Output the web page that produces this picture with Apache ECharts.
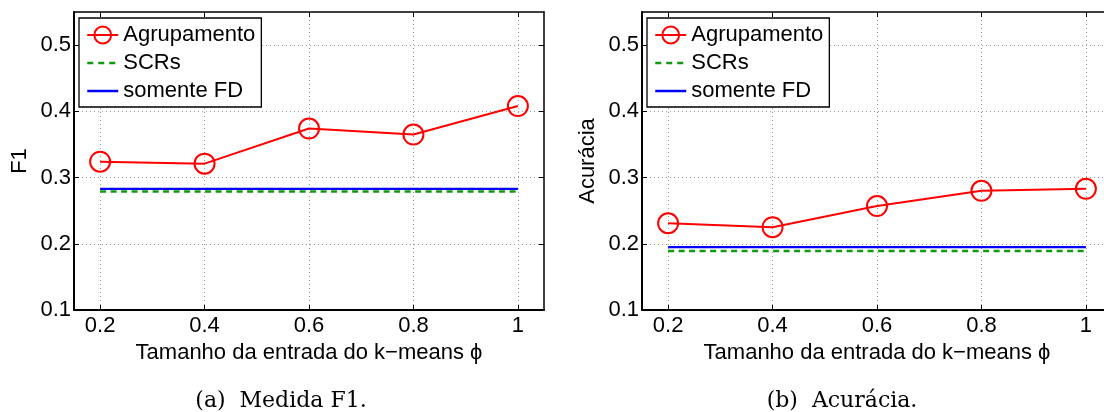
<!DOCTYPE html>
<html>
<head>
<meta charset="utf-8">
<script src="https://cdn.jsdelivr.net/npm/echarts@6/dist/echarts.min.js"></script>
<style>
  html, body { margin: 0; padding: 0; background: #ffffff; }
  #chart { width: 1104px; height: 412px; }
</style>
</head>
<body>
<div id="chart"></div>
<script>
// k-means input size (phi) on the x axis
const phiValues = [0.2, 0.4, 0.6, 0.8, 1];
const xTicks = [0.2, 0.4, 0.6, 0.8, 1];
const yTicks = [0.1, 0.2, 0.3, 0.4, 0.5];

const seriesNames = ['Agrupamento', 'SCRs', 'somente FD'];

// (a) F1 measure
const f1Agrupamento = [0.324, 0.321, 0.374, 0.365, 0.408];
const f1Scrs        = [0.279, 0.279, 0.279, 0.279, 0.279];
const f1SomenteFd   = [0.283, 0.283, 0.283, 0.283, 0.283];

// (b) Accuracy
const accAgrupamento = [0.231, 0.225, 0.257, 0.280, 0.283];
const accScrs        = [0.189, 0.189, 0.189, 0.189, 0.189];
const accSomenteFd   = [0.195, 0.195, 0.195, 0.195, 0.195];

const yTitles = ['F1', 'Acurácia'];
const xTitle = 'Tamanho da entrada do k\u2212means \u03d5';
const captions = ['(a)  Medida F1.', '(b)  Acurácia.'];

const SANS = '"Liberation Sans", Arial, Helvetica, sans-serif';
const SERIF = '"DejaVu Serif", serif';
const RED = '#ff0000';
const GREEN = '#0f9a0f';
const BLUE = '#0000ff';
const NONE = 'rgba(0,0,0,0)';
const GRID_LINE = { color: '#9a9a9a', width: 1, type: [1, 3] };

const panels = [
  { left: 74, agr: f1Agrupamento, scr: f1Scrs, fd: f1SomenteFd, captionX: 281 },
  { left: 642, agr: accAgrupamento, scr: accScrs, fd: accSomenteFd, captionX: 842 }
];

const grids = [], xAxes = [], yAxes = [], series = [], legends = [], graphics = [];

panels.forEach((p, i) => {
  // the second panel runs past the right edge of the canvas
  grids.push({
    left: p.left, top: 12, width: 470, height: 298,
    containLabel: false, outerBoundsMode: 'none', show: false
  });

  const xBase = { type: 'value', gridIndex: i, min: 0.15, max: 1.05, splitNumber: 5 };
  const yBase = { type: 'value', gridIndex: i, min: 0.1, max: 0.55, interval: 0.1 };

  // bottom x axis with labels and dotted grid
  xAxes.push(Object.assign({}, xBase, {
    position: 'bottom',
    axisLine: { show: true, onZero: false, lineStyle: { color: '#000', width: 2 } },
    axisTick: { show: true, inside: true, length: 5, customValues: xTicks, lineStyle: { color: '#000', width: 1 } },
    axisLabel: {
      customValues: xTicks, margin: 5, color: '#000', fontSize: 22, fontFamily: SANS,
      formatter: v => String(+v.toFixed(1))
    },
    splitLine: { show: true, lineStyle: GRID_LINE },
    name: xTitle, nameLocation: 'middle', nameGap: 29,
    nameTextStyle: { color: '#000', fontSize: 22, fontFamily: SANS }
  }));
  // top frame edge
  xAxes.push(Object.assign({}, xBase, {
    position: 'top',
    axisLine: { show: true, onZero: false, lineStyle: { color: '#000', width: 1.5 } },
    axisTick: { show: true, inside: true, length: 5, customValues: xTicks, lineStyle: { color: '#000', width: 1 } },
    axisLabel: { show: false },
    splitLine: { show: false }
  }));

  // left y axis with labels and dotted grid
  yAxes.push(Object.assign({}, yBase, {
    position: 'left',
    axisLine: { show: true, onZero: false, lineStyle: { color: '#000', width: 2 } },
    axisTick: { show: true, inside: true, length: 5, customValues: yTicks, lineStyle: { color: '#000', width: 1 } },
    axisLabel: {
      customValues: yTicks, margin: 3, color: '#000', fontSize: 22, fontFamily: SANS,
      formatter: v => v.toFixed(1)
    },
    splitLine: { show: true, lineStyle: GRID_LINE },
    name: yTitles[i], nameLocation: 'middle', nameGap: 43,
    nameTextStyle: { color: '#000', fontSize: 22, fontFamily: SANS }
  }));
  // right frame edge
  yAxes.push(Object.assign({}, yBase, {
    position: 'right',
    axisLine: { show: true, onZero: false, lineStyle: { color: '#000', width: 1.5 } },
    axisTick: { show: true, inside: true, length: 5, customValues: yTicks, lineStyle: { color: '#000', width: 1 } },
    axisLabel: { show: false },
    splitLine: { show: false }
  }));

  const xi = i * 2, yi = i * 2;
  const pairs = arr => phiValues.map((x, k) => [x, arr[k]]);

  series.push({
    name: seriesNames[2], type: 'line', xAxisIndex: xi, yAxisIndex: yi,
    data: pairs(p.fd), symbol: 'none', silent: true, z: 3,
    lineStyle: { color: BLUE, width: 2.2 }, itemStyle: { color: BLUE }
  });
  series.push({
    name: seriesNames[1], type: 'line', xAxisIndex: xi, yAxisIndex: yi,
    data: pairs(p.scr), symbol: 'none', silent: true, z: 3,
    lineStyle: { color: GREEN, width: 2.5, type: [6, 4.5] }, itemStyle: { color: GREEN }
  });
  series.push({
    name: seriesNames[0], type: 'line', xAxisIndex: xi, yAxisIndex: yi,
    data: pairs(p.agr), symbol: 'circle', symbolSize: 20, showSymbol: true, silent: true, z: 5,
    lineStyle: { color: RED, width: 2 },
    itemStyle: { color: NONE, borderColor: RED, borderWidth: 2 }
  });

  legends.push({
    orient: 'vertical', left: p.left + 5, top: 18,
    backgroundColor: '#fff', borderColor: '#000', borderWidth: 1.3, borderRadius: 0,
    padding: [6, 6, 5, 7], itemWidth: 31, itemHeight: 21, itemGap: 6,
    selectedMode: false,
    textStyle: { color: '#000', fontSize: 22, fontFamily: SANS },
    data: [
      { name: seriesNames[0],
        itemStyle: { color: NONE, borderColor: RED, borderWidth: 2 },
        lineStyle: { color: RED, width: 2 } },
      { name: seriesNames[1],
        itemStyle: { color: NONE, borderColor: NONE, borderWidth: 0 },
        lineStyle: { color: GREEN, width: 2.5, type: [6, 5] } },
      { name: seriesNames[2],
        itemStyle: { color: NONE, borderColor: NONE, borderWidth: 0 },
        lineStyle: { color: BLUE, width: 2.5 } }
    ]
  });

  graphics.push({
    type: 'text', x: p.captionX, y: 401,
    style: {
      text: captions[i], font: '22px ' + SERIF, fill: '#000',
      align: 'center', verticalAlign: 'middle'
    }
  });
});

const chart = echarts.init(document.getElementById('chart'), null, { renderer: 'canvas' });
chart.setOption({
  animation: false,
  backgroundColor: '#ffffff',
  grid: grids,
  xAxis: xAxes,
  yAxis: yAxes,
  legend: legends,
  series: series,
  graphic: graphics
});
</script>
</body>
</html>
